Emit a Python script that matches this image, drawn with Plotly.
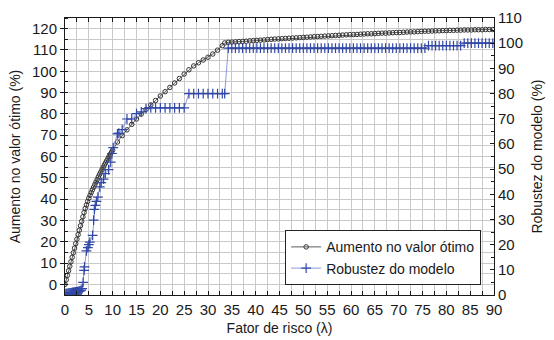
import plotly.graph_objects as go

# --- Aumento no valor ótimo (%), eixo esquerdo ---
lam_dense = [0.0, 0.25, 0.5, 0.75, 1.0, 1.25, 1.5, 1.75, 2.0, 2.25, 2.5, 2.75, 3.0, 3.25,
             3.5, 3.75, 4.0, 4.25, 4.5, 4.75, 5.0, 5.25, 5.5, 5.75, 6.0, 6.25, 6.5, 6.75,
             7.0, 7.25, 7.5, 7.75, 8.0, 8.25, 8.5, 8.75, 9.0, 9.25, 9.5, 9.75, 10.0]
aumento_dense = [0.0, 2.1, 4.2, 6.4, 8.5, 10.6, 12.7, 14.8, 17.0, 19.1, 21.2, 23.3, 25.4, 27.5,
                 29.6, 31.7, 33.7, 35.6, 37.3, 38.9, 40.4, 41.8, 43.1, 44.4, 45.6, 46.8, 48.0, 49.2,
                 50.4, 51.6, 52.7, 53.8, 54.9, 56.0, 57.0, 58.0, 59.0, 60.0, 61.0, 62.0, 63.0]

lam_mid = [11, 12, 13, 14, 15, 16, 17, 18, 19, 20, 21, 22, 23, 24, 25, 26, 27, 28, 29, 30,
           31, 32, 33]
aumento_mid = [66.8, 69.8, 72.5, 75.1, 77.6, 79.9, 82.1, 84.2, 86.3, 88.4, 90.4, 92.4, 94.5,
               96.6, 98.7, 100.7, 102.5, 104.0, 105.3, 106.6, 108.1, 109.9, 112.0]

lam_tail = [33.5, 34.25, 35.0, 35.75, 36.5, 37.25, 38.0, 38.75, 39.5, 40.25, 41.0, 41.75,
            42.5, 43.25, 44.0, 44.75, 45.5, 46.25, 47.0, 47.75, 48.5, 49.25, 50.0, 50.75,
            51.5, 52.25, 53.0, 53.75, 54.5, 55.25, 56.0, 56.75, 57.5, 58.25, 59.0, 59.75,
            60.5, 61.25, 62.0, 62.75, 63.5, 64.25, 65.0, 65.75, 66.5, 67.25, 68.0, 68.75,
            69.5, 70.25, 71.0, 71.75, 72.5, 73.25, 74.0, 74.75, 75.5, 76.25, 77.0, 77.75,
            78.5, 79.25, 80.0, 80.75, 81.5, 82.25, 83.0, 83.75, 84.5, 85.25, 86.0, 86.75,
            87.5, 88.25, 89.0, 89.75]
aumento_tail = [113.3, 113.6, 113.7, 113.8, 113.9, 114.0, 114.1, 114.3, 114.4, 114.5, 114.6,
                114.7, 114.9, 115.0, 115.1, 115.2, 115.3, 115.4, 115.5, 115.6, 115.7, 115.8,
                115.9, 116.0, 116.1, 116.2, 116.3, 116.4, 116.5, 116.6, 116.7, 116.8, 116.9,
                117.0, 117.1, 117.2, 117.2, 117.3, 117.4, 117.5, 117.6, 117.6, 117.7, 117.8,
                117.9, 117.9, 118.0, 118.1, 118.2, 118.2, 118.3, 118.4, 118.5, 118.5, 118.6,
                118.7, 118.8, 118.8, 118.9, 119.0, 119.0, 119.1, 119.1, 119.2, 119.2, 119.3,
                119.3, 119.4, 119.4, 119.4, 119.5, 119.5, 119.5, 119.6, 119.6, 119.6]

# --- Robustez do modelo (%), eixo direito ---
lam_rob = [0.0, 0.2, 0.4, 0.6, 0.8, 1.0, 1.2, 1.4, 1.6, 1.8, 2.0, 2.2, 2.4, 2.6, 2.8, 3.0,
           3.2, 3.4, 3.6, 3.8, 4.0, 4.1, 4.5, 4.8, 5.0, 5.2, 5.8, 6.0, 6.15, 6.35, 6.6, 6.9,
           7.3, 7.6, 8.1, 8.45, 9.15, 9.6, 9.85, 10.1, 11.0, 11.3, 12.0, 13.0, 14.0, 15.0,
           16.0, 17.0, 18.0, 19.0, 20.0, 21.0, 22.0, 23.0, 24.0, 25.0, 26.0, 27.0, 28.0,
           29.0, 30.0, 31.0, 32.0, 33.0]
robustez = [0.3, 0.5, 0.6, 0.6, 0.7, 0.8, 0.8, 0.9, 1.0, 1.0, 1.1, 1.2, 1.2, 1.3, 1.4, 1.5,
            1.6, 1.9, 2.5, 5.0, 9.8, 11.2, 17.5, 18.8, 20.0, 21.0, 23.7, 29.7, 34.0, 35.6,
            37.2, 38.9, 42.9, 44.6, 46.0, 48.2, 49.8, 52.8, 56.2, 58.5, 64.0, 64.3, 65.7,
            69.9, 69.9, 72.0, 72.7, 74.0, 74.3, 74.3, 74.3, 74.3, 74.3, 74.3, 74.3, 74.3,
            80.0, 80.0, 80.0, 80.0, 80.0, 80.0, 80.0, 80.0]
robustez_tail = [80.0] + [98.0] * 56 + [99.0] * 10 + [100.0] * 9

lam_aumento = lam_dense + lam_mid + lam_tail
aumento = aumento_dense + aumento_mid + aumento_tail
lam_robustez = lam_rob + lam_tail
robustez_all = robustez + robustez_tail

FONT = "Liberation Sans, Arial, sans-serif"
GRID = "#c9c9c9"
INK = "#1a1a1a"
FS_TICK = 15
FS_TITLE = 14

fig = go.Figure()

fig.add_trace(go.Scatter(
    x=lam_aumento, y=aumento, name="Aumento no valor ótimo",
    mode="lines+markers",
    line=dict(color="#333333", width=0.8),
    marker=dict(symbol="circle-open", size=4.5, color="#333333", line=dict(width=1)),
    yaxis="y",
))

fig.add_trace(go.Scatter(
    x=lam_robustez, y=robustez_all, name="Robustez do modelo",
    mode="lines+markers",
    line=dict(color="#7d8fd6", width=0.9),
    marker=dict(symbol="cross-thin", size=7, color="#3047a8", line=dict(width=1.2, color="#3047a8")),
    yaxis="y2",
))

fig.update_layout(
    width=554, height=340,
    margin=dict(l=65, r=60, t=18, b=45),
    paper_bgcolor="white", plot_bgcolor="white",
    font=dict(family=FONT, size=FS_TICK, color=INK),
    showlegend=True,
    legend=dict(
        x=0.97, y=0.035, xanchor="right", yanchor="bottom",
        bgcolor="white", bordercolor="#222222", borderwidth=1,
        font=dict(size=14), tracegroupgap=0, itemwidth=30,
    ),
    xaxis=dict(
        range=[0, 90], dtick=5, tick0=0, automargin=False,
        showgrid=True, gridcolor=GRID, gridwidth=1,
        showline=True, linecolor=INK, linewidth=1, mirror="ticks",
        ticks="inside", ticklen=4, tickcolor=INK, ticklabelstandoff=1,
        minor=dict(dtick=2.5, showgrid=True, gridcolor=GRID, ticks="inside", ticklen=4, tickcolor=INK),
        zeroline=False,
        title=dict(text="Fator de risco (λ)", font=dict(size=FS_TITLE), standoff=6),
    ),
    yaxis=dict(
        range=[-5, 125], dtick=10, tick0=0, automargin=False,
        showgrid=True, gridcolor=GRID, gridwidth=1,
        showline=True, linecolor=INK, linewidth=1,
        ticks="outside", ticklen=4, tickcolor=INK,
        minor=dict(dtick=5, showgrid=True, gridcolor=GRID, ticks="inside", ticklen=3, tickcolor=INK),
        zeroline=False,
        title=dict(text="Aumento no valor ótimo (%)", font=dict(size=FS_TITLE), standoff=8),
    ),
    yaxis2=dict(
        range=[0, 110], dtick=10, tick0=0, automargin=False,
        overlaying="y", side="right",
        showgrid=False,
        showline=True, linecolor=INK, linewidth=1,
        ticks="inside", ticklen=4, tickcolor=INK,
        minor=dict(dtick=5, ticks="inside", ticklen=3, tickcolor=INK),
        zeroline=False,
        title=dict(text="Robustez do modelo (%)", font=dict(size=FS_TITLE), standoff=10),
    ),
)

fig.write_html("out.html")
